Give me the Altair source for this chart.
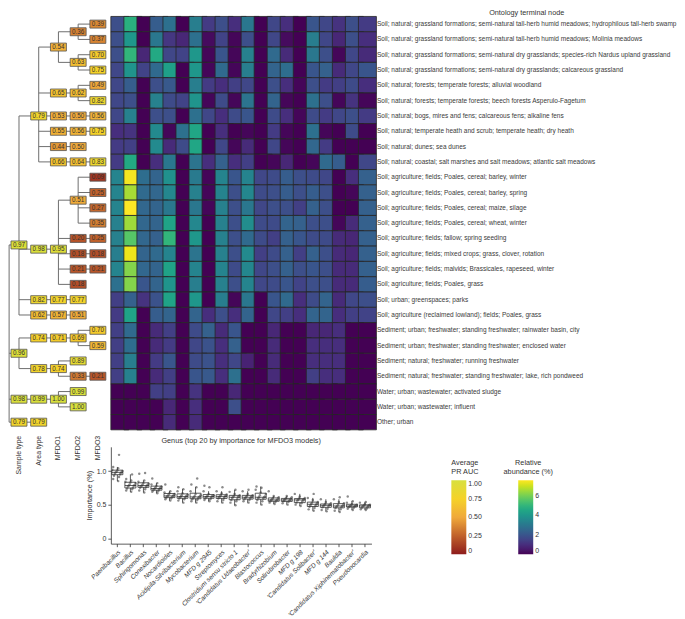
import altair as alt
import pandas as pd

FONT = "Liberation Sans"

ontology = [
    "Soil; natural; grassland formations; semi-natural tall-herb humid meadows; hydrophilous tall-herb swamp",
    "Soil; natural; grassland formations; semi-natural tall-herb humid meadows; Molinia meadows",
    "Soil; natural; grassland formations; semi-natural dry grasslands; species-rich Nardus upland grassland",
    "Soil; natural; grassland formations; semi-natural dry grasslands; calcareous grassland",
    "Soil; natural; forests; temperate forests; alluvial woodland",
    "Soil; natural; forests; temperate forests; beech forests Asperulo-Fagetum",
    "Soil; natural; bogs, mires and fens; calcareous fens; alkaline fens",
    "Soil; natural; temperate heath and scrub; temperate heath; dry heath",
    "Soil; natural; dunes; sea dunes",
    "Soil; natural; coastal; salt marshes and salt meadows; atlantic salt meadows",
    "Soil; agriculture; fields; Poales, cereal; barley, winter",
    "Soil; agriculture; fields; Poales, cereal; barley, spring",
    "Soil; agriculture; fields; Poales, cereal; maize, silage",
    "Soil; agriculture; fields; Poales, cereal; wheat, winter",
    "Soil; agriculture; fields; fallow; spring seeding",
    "Soil; agriculture; fields; mixed crops; grass, clover, rotation",
    "Soil; agriculture; fields; malvids; Brassicales, rapeseed, winter",
    "Soil; agriculture; fields; Poales, grass",
    "Soil; urban; greenspaces; parks",
    "Soil; agriculture (reclaimed lowland); fields; Poales, grass",
    "Sediment; urban; freshwater; standing freshwater; rainwater basin, city",
    "Sediment; urban; freshwater; standing freshwater; enclosed water",
    "Sediment; natural; freshwater; running freshwater",
    "Sediment; natural; freshwater; standing freshwater; lake, rich pondweed",
    "Water; urban; wastewater; activated sludge",
    "Water; urban; wastewater; influent",
    "Other; urban",
]

genera = [
    "Paenibacillus", "Bacillus", "Sphingomonas", "Conexibacter", "Nocardioides",
    "Acidipila-Silvibacterium", "Mycobacterium", "MFD g 2945", "Streptomyces",
    "Clostridium sensu stricto 1", "'Candidatus Udaeobacter'", "Blastococcus",
    "Bradyrhizobium", "Solirubrobacter", "MFD g 198", "'Candidatus Solibacter'",
    "MFD g 144", "Bauldia", "'Candidatus Xiphinematobacter'", "Pseudonocardia",
]

# relative abundance (%) per ontology node (rows) and genus (columns)
abundance = [
    [1.8, 4.8, 0, 2.2, 2.8, 0, 3.2, 1.3, 1.8, 1.0, 3.0, 0, 1.6, 1.0, 0, 2.0, 1.6, 1.1, 1.8, 1.3],
    [1.8, 4.0, 0, 3.0, 1.2, 0.8, 2.8, 0.2, 1.5, 0.1, 1.8, 0, 1.6, 0.2, 0, 3.2, 1.6, 0.8, 1.8, 1.0],
    [1.8, 5.0, 0.8, 4.6, 1.6, 1.5, 4.0, 0.1, 2.0, 0.1, 3.3, 0, 2.6, 0.9, 0, 3.0, 1.8, 0.1, 1.6, 0.9],
    [1.6, 3.9, 1.5, 2.6, 4.3, 0, 4.0, 0.1, 2.6, 0.1, 3.2, 0, 2.4, 2.7, 0, 2.0, 2.3, 0.9, 1.6, 2.0],
    [1.6, 2.2, 0, 1.8, 2.1, 0, 3.2, 1.3, 1.0, 1.4, 1.6, 0, 1.8, 1.0, 0.1, 1.8, 1.3, 1.4, 1.7, 1.0],
    [1.6, 1.8, 0, 3.3, 1.7, 1.5, 3.9, 0.1, 1.7, 0.1, 2.9, 0, 2.4, 0.1, 0, 2.8, 1.8, 0.1, 1.1, 0.1],
    [1.6, 3.3, 0, 1.8, 1.8, 0, 2.8, 1.6, 1.0, 1.7, 2.0, 0, 1.7, 1.0, 0.1, 1.7, 1.3, 1.6, 1.8, 1.3],
    [1.0, 1.1, 0, 3.6, 0.1, 2.8, 4.5, 0, 1.0, 0, 0.1, 0, 1.3, 0.1, 0, 2.8, 0.1, 0, 1.7, 0],
    [1.3, 1.4, 0, 3.6, 0.9, 1.7, 4.5, 0, 1.6, 0.1, 0.9, 0, 1.6, 0.1, 0, 2.5, 1.3, 0, 0, 0],
    [1.3, 4.6, 0, 1.0, 3.0, 0, 2.9, 1.0, 2.3, 1.0, 1.4, 0, 0.1, 0.8, 0, 0.1, 2.6, 2.2, 0, 1.6],
    [3.4, 7.5, 2.7, 2.4, 3.8, 0, 3.1, 0.1, 3.4, 2.0, 3.4, 1.6, 1.7, 2.2, 1.8, 1.7, 1.6, 0, 1.0, 2.3],
    [3.4, 6.6, 2.6, 2.5, 3.5, 0, 3.3, 0.1, 3.4, 1.8, 3.5, 1.7, 1.8, 2.2, 1.8, 2.2, 1.8, 0, 0.1, 2.3],
    [3.4, 7.6, 2.5, 2.4, 3.0, 0, 3.0, 0.1, 3.3, 1.8, 3.0, 1.6, 1.8, 1.8, 1.4, 2.3, 1.8, 0, 0, 2.3],
    [3.3, 6.5, 2.5, 2.4, 4.4, 0, 3.5, 0, 3.3, 1.8, 3.7, 1.7, 1.7, 2.4, 2.3, 1.8, 1.8, 0.1, 0.9, 2.3],
    [3.3, 5.6, 2.5, 2.3, 5.0, 0, 4.0, 0, 3.3, 1.8, 2.6, 1.7, 1.4, 2.3, 2.0, 1.7, 1.7, 0.9, 0.8, 2.3],
    [3.2, 7.4, 2.4, 2.6, 3.4, 0, 2.9, 0, 3.3, 1.8, 3.6, 1.4, 1.7, 2.3, 1.4, 2.3, 1.8, 0.9, 0.8, 2.3],
    [3.4, 6.2, 2.5, 2.4, 4.4, 0, 3.4, 0, 3.4, 1.7, 3.5, 1.6, 1.8, 2.3, 1.8, 2.0, 1.8, 0.9, 0.9, 2.3],
    [2.8, 6.2, 2.0, 2.4, 3.9, 0, 3.2, 0, 3.3, 1.8, 3.4, 1.6, 1.7, 2.0, 1.5, 1.8, 1.8, 0.9, 0.9, 2.2],
    [1.4, 2.3, 1.1, 1.9, 4.4, 0, 4.0, 0, 3.2, 0.1, 3.0, 0, 2.0, 2.6, 1.0, 1.7, 2.4, 0.9, 1.6, 1.8],
    [1.3, 4.4, 0, 2.2, 2.4, 0, 2.4, 1.0, 1.8, 1.0, 2.4, 0, 1.6, 1.4, 1.0, 2.4, 2.4, 1.0, 1.4, 1.5],
    [1.4, 2.6, 0, 0.9, 1.4, 0, 1.7, 2.3, 0.9, 2.0, 0, 0, 0.8, 0, 0, 0.8, 0.8, 1.0, 0, 0],
    [1.4, 2.7, 0, 0.9, 1.3, 0, 1.6, 1.9, 1.0, 2.3, 0, 0, 0.9, 0, 0, 1.0, 1.0, 1.0, 0, 0],
    [1.4, 3.2, 0, 1.3, 2.0, 0, 1.7, 1.9, 1.0, 1.6, 0.7, 0, 0.9, 0, 0, 1.0, 1.0, 1.0, 0, 0],
    [1.4, 3.3, 0, 0.9, 1.4, 0, 2.0, 2.1, 1.0, 2.8, 0, 0, 0.9, 0, 0, 1.4, 1.0, 1.0, 0, 0],
    [0, 0, 0, 1.4, 1.4, 0, 1.1, 0, 0, 0.8, 0, 0, 0, 0, 0, 0, 0, 0, 0, 0],
    [0, 0, 0, 0, 0.8, 0, 1.0, 0, 0, 1.8, 0, 0, 0, 0, 0, 0, 0, 0, 0, 0],
    [0, 0, 0, 0, 0.9, 0, 0.9, 0, 0, 0, 0, 0, 0, 0, 0, 0, 0, 0, 0, 0],
]

level_names = ["Sample type", "Area type", "MFDO1", "MFDO2", "MFDO3"]
level_ids = [1, 2, 3, 4, 5]

# ontology tree: (node id, parent id, level, average PR AUC, leaf row index)
tree_nodes = [
    ("root", None, 0.5, None, None),
    ("soil", "root", 1, 0.97, None),
    ("soil_nat", "soil", 2, 0.79, None),
    ("n_grass", "soil_nat", 3, 0.54, None),
    ("n_tall", "n_grass", 4, 0.36, None),
    ("r1", "n_tall", 5, 0.39, 0),
    ("r2", "n_tall", 5, 0.37, 1),
    ("n_dry", "n_grass", 4, 0.63, None),
    ("r3", "n_dry", 5, 0.70, 2),
    ("r4", "n_dry", 5, 0.75, 3),
    ("n_for", "soil_nat", 3, 0.65, None),
    ("n_tfor", "n_for", 4, 0.62, None),
    ("r5", "n_tfor", 5, 0.49, 4),
    ("r6", "n_tfor", 5, 0.82, 5),
    ("n_bog", "soil_nat", 3, 0.53, None),
    ("n_bog2", "n_bog", 4, 0.50, None),
    ("r7", "n_bog2", 5, 0.56, 6),
    ("n_heath", "soil_nat", 3, 0.55, None),
    ("n_heath2", "n_heath", 4, 0.56, None),
    ("r8", "n_heath2", 5, 0.75, 7),
    ("n_dunes", "soil_nat", 3, 0.44, None),
    ("r9", "n_dunes", 4, 0.50, 8),
    ("n_coast", "soil_nat", 3, 0.66, None),
    ("n_coast2", "n_coast", 4, 0.64, None),
    ("r10", "n_coast2", 5, 0.83, 9),
    ("soil_agr", "soil", 2, 0.98, None),
    ("a_fields", "soil_agr", 3, 0.95, None),
    ("a_cereal", "a_fields", 4, 0.51, None),
    ("r11", "a_cereal", 5, 0.09, 10),
    ("r12", "a_cereal", 5, 0.25, 11),
    ("r13", "a_cereal", 5, 0.27, 12),
    ("r14", "a_cereal", 5, 0.35, 13),
    ("a_fallow", "a_fields", 4, 0.20, None),
    ("r15", "a_fallow", 5, 0.25, 14),
    ("a_mixed", "a_fields", 4, 0.18, None),
    ("r16", "a_mixed", 5, 0.18, 15),
    ("a_malv", "a_fields", 4, 0.21, None),
    ("r17", "a_malv", 5, 0.21, 16),
    ("r18", "a_fields", 4, 0.18, 17),
    ("soil_urb", "soil", 2, 0.82, None),
    ("u_green", "soil_urb", 3, 0.77, None),
    ("r19", "u_green", 4, 0.77, 18),
    ("soil_recl", "soil", 2, 0.62, None),
    ("rc_fields", "soil_recl", 3, 0.57, None),
    ("r20", "rc_fields", 4, 0.51, 19),
    ("sed", "root", 1, 0.96, None),
    ("s_urb", "sed", 2, 0.74, None),
    ("s_urb_fw", "s_urb", 3, 0.71, None),
    ("s_urb_st", "s_urb_fw", 4, 0.69, None),
    ("r21", "s_urb_st", 5, 0.70, 20),
    ("r22", "s_urb_st", 5, 0.59, 21),
    ("s_nat", "sed", 2, 0.78, None),
    ("s_nat_fw", "s_nat", 3, 0.74, None),
    ("r23", "s_nat_fw", 4, 0.89, 22),
    ("s_nat_st", "s_nat_fw", 4, 0.33, None),
    ("r24", "s_nat_st", 5, 0.21, 23),
    ("water", "root", 1, 0.98, None),
    ("w_urb", "water", 2, 0.99, None),
    ("w_ww", "w_urb", 3, 1.00, None),
    ("r25", "w_ww", 4, 0.99, 24),
    ("r26", "w_ww", 4, 1.00, 25),
    ("other", "root", 1, 0.79, None),
    ("r27", "other", 2, 0.79, 26),
]

# feature importance (%) per genus
importance = {
    "Paenibacillus": [0.85, 0.88, 0.91, 0.93, 0.95, 0.96, 0.97, 0.98, 0.98, 0.99, 1.00, 1.01, 1.02, 1.04, 1.06, 1.24],
    "Bacillus": [0.69, 0.71, 0.73, 0.74, 0.75, 0.77, 0.78, 0.78, 0.79, 0.80, 0.82, 0.83, 0.84, 0.86, 0.88, 0.95],
    "Sphingomonas": [0.68, 0.71, 0.73, 0.75, 0.76, 0.77, 0.78, 0.78, 0.79, 0.80, 0.81, 0.82, 0.84, 0.86, 0.96, 0.97],
    "Conexibacter": [0.67, 0.69, 0.70, 0.71, 0.72, 0.73, 0.74, 0.74, 0.75, 0.76, 0.77, 0.78, 0.80, 0.82, 0.89],
    "Nocardioides": [0.56, 0.58, 0.59, 0.60, 0.61, 0.62, 0.63, 0.63, 0.64, 0.65, 0.66, 0.67, 0.68, 0.70, 0.80],
    "Acidipila-Silvibacterium": [0.53, 0.56, 0.58, 0.59, 0.60, 0.61, 0.62, 0.62, 0.63, 0.64, 0.65, 0.67, 0.70, 0.73, 0.76],
    "Mycobacterium": [0.53, 0.55, 0.57, 0.58, 0.59, 0.60, 0.61, 0.61, 0.62, 0.63, 0.64, 0.66, 0.70, 0.76, 0.80, 0.89],
    "MFD g 2945": [0.55, 0.57, 0.58, 0.59, 0.60, 0.61, 0.62, 0.62, 0.63, 0.63, 0.64, 0.66, 0.70, 0.76, 0.78],
    "Streptomyces": [0.53, 0.55, 0.57, 0.59, 0.60, 0.61, 0.62, 0.62, 0.63, 0.64, 0.65, 0.67, 0.70, 0.76],
    "Clostridium sensu stricto 1": [0.49, 0.53, 0.55, 0.57, 0.58, 0.60, 0.61, 0.61, 0.62, 0.63, 0.64, 0.66, 0.69, 0.72],
    "'Candidatus Udaeobacter'": [0.53, 0.55, 0.57, 0.58, 0.59, 0.60, 0.61, 0.61, 0.62, 0.63, 0.64, 0.66, 0.70, 0.72],
    "Blastococcus": [0.50, 0.53, 0.55, 0.57, 0.59, 0.60, 0.61, 0.61, 0.62, 0.64, 0.66, 0.68, 0.72, 0.75, 0.77],
    "Bradyrhizobium": [0.51, 0.53, 0.54, 0.55, 0.56, 0.57, 0.57, 0.58, 0.59, 0.60, 0.61, 0.63, 0.70],
    "Solirubrobacter": [0.50, 0.52, 0.54, 0.55, 0.56, 0.57, 0.57, 0.58, 0.59, 0.60, 0.61, 0.63],
    "MFD g 198": [0.48, 0.50, 0.52, 0.53, 0.55, 0.56, 0.57, 0.57, 0.58, 0.59, 0.60, 0.62, 0.66],
    "'Candidatus Solibacter'": [0.41, 0.43, 0.45, 0.47, 0.48, 0.49, 0.50, 0.51, 0.52, 0.53, 0.54, 0.57, 0.60, 0.66],
    "MFD g 144": [0.40, 0.42, 0.44, 0.46, 0.47, 0.48, 0.49, 0.49, 0.50, 0.51, 0.52, 0.54, 0.58],
    "Bauldia": [0.39, 0.41, 0.43, 0.45, 0.46, 0.47, 0.48, 0.48, 0.49, 0.50, 0.52, 0.54, 0.58, 0.61],
    "'Candidatus Xiphinematobacter'": [0.42, 0.44, 0.45, 0.46, 0.47, 0.47, 0.48, 0.48, 0.49, 0.49, 0.50, 0.51, 0.53, 0.55, 0.62],
    "Pseudonocardia": [0.42, 0.43, 0.44, 0.45, 0.46, 0.47, 0.48, 0.48, 0.49, 0.49, 0.50, 0.51, 0.53, 0.54],
}

auc_stops = [0, 0.25, 0.5, 0.75, 1.0]
auc_colors = ["#8e1c1c", "#c0612b", "#f0a93a", "#f5d228", "#d8e03c"]

# ---------------- tree geometry (levels / row positions) ----------------
parent = {n[0]: n[1] for n in tree_nodes}
level = {n[0]: n[2] for n in tree_nodes}
auc = {n[0]: n[3] for n in tree_nodes}
leaf = {n[0]: n[4] for n in tree_nodes}
children = {n[0]: [] for n in tree_nodes}
for n in tree_nodes:
    if n[1] is not None:
        children[n[1]].append(n[0])

ypos = {}


def place(nid):
    if leaf[nid] is not None:
        ypos[nid] = leaf[nid] + 0.5
    else:
        ys = [place(c) for c in children[nid]]
        ypos[nid] = sum(ys) / len(ys)
    return ypos[nid]


place("root")

edges = []
for nid, par, lv, a, lf in tree_nodes:
    if par is not None:
        edges.append({"lx": level[par], "lx2": lv, "y": ypos[nid], "y2": ypos[nid]})
    if len(children[nid]) > 1:
        cy = [ypos[c] for c in children[nid]]
        edges.append({"lx": lv, "lx2": lv, "y": min(cy), "y2": max(cy)})
edges_df = pd.DataFrame(edges)
boxes_df = pd.DataFrame(
    [{"lx": level[n], "y": ypos[n], "auc": auc[n]} for n in level if auc[n] is not None]
)
levels_df = pd.DataFrame({"lx": level_ids, "name": level_names})

NROW = len(ontology)
HEAT_H = 414
HEAT_W = 261
DEND_W = 103
BOX_H = 97

dx = alt.Scale(domain=[0.443, 5.658], nice=False, zero=False)
dy = alt.Scale(domain=[0, NROW], reverse=True, nice=False, zero=False)

auc_scale = alt.Scale(domain=auc_stops, range=auc_colors, interpolate="rgb")

lines = alt.Chart(edges_df).mark_rule(color="#6e6e6e", strokeWidth=1).encode(
    x=alt.X("lx:Q", scale=dx, axis=None),
    x2="lx2:Q",
    y=alt.Y("y:Q", scale=dy, axis=None),
    y2="y2:Q",
)

rects = alt.Chart(boxes_df).mark_rect(
    xOffset=-8, x2Offset=8, yOffset=-4, y2Offset=4, stroke="#555555", strokeWidth=0.8
).encode(
    x=alt.X("lx:Q", scale=dx, axis=None),
    x2="lx:Q",
    y=alt.Y("y:Q", scale=dy, axis=None),
    y2="y:Q",
    color=alt.Color("auc:Q", scale=auc_scale,
                    legend=alt.Legend(title=["Average", "PR AUC"], orient="none",
                                      legendX=444, legendY=443, values=auc_stops,
                                      gradientLength=74, gradientThickness=15,
                                      labelExpr="datum.value == 0 ? '0' : format(datum.value, '.2f')",
                                      direction="vertical")),
)

texts = alt.Chart(boxes_df).mark_text(fontSize=6.3, color="#333333", font=FONT).encode(
    x=alt.X("lx:Q", scale=dx, axis=None),
    y=alt.Y("y:Q", scale=dy, axis=None),
    text=alt.Text("auc:Q", format=".2f"),
)

level_labels = alt.Chart(levels_df).mark_text(
    angle=270, align="right", baseline="middle", fontSize=7, color="#333333", font=FONT
).encode(
    x=alt.X("lx:Q", scale=dx, axis=None),
    y=alt.value(HEAT_H + 6),
    text="name:N",
)

dendro = alt.layer(lines, rects, texts, level_labels).properties(width=DEND_W, height=HEAT_H)

heat_rows = []
for r, node in enumerate(ontology):
    for c, g in enumerate(genera):
        heat_rows.append({"node": node, "genus": g, "abund": abundance[r][c]})
heat_df = pd.DataFrame(heat_rows)

heat = alt.Chart(heat_df).mark_rect(stroke="#262626", strokeWidth=0.8).encode(
    x=alt.X("genus:N", sort=genera, axis=None,
            scale=alt.Scale(paddingInner=0, paddingOuter=0)),
    y=alt.Y("node:N", sort=ontology, title="Ontology terminal node",
            scale=alt.Scale(paddingInner=0, paddingOuter=0),
            axis=alt.Axis(orient="right", titleAngle=0, titleX=155, titleY=0,
                          titleAlign="center", titleBaseline="bottom", titleFontSize=7.3,
                          titleFontWeight="normal", labelFontSize=6.5, labelLimit=400,
                          labelPadding=5, ticks=False, domain=False, labelColor="#3a3a3a")),
    color=alt.Color("abund:Q", scale=alt.Scale(scheme="viridis", domain=[0, 7.6]),
                    legend=alt.Legend(title=["Relative", "abundance (%)"], orient="none",
                                      legendX=393, legendY=443, values=[0, 2, 4, 6],
                                      gradientLength=74, gradientThickness=15,
                                      titleAlign="center", titleAnchor="middle",
                                      direction="vertical")),
).properties(width=HEAT_W, height=HEAT_H)

imp_rows = []
for g in genera:
    for v in importance[g]:
        imp_rows.append({"genus": g, "imp": v})
imp_df = pd.DataFrame(imp_rows)

bx = alt.X("genus:N", sort=genera, title=None,
           scale=alt.Scale(paddingInner=0, paddingOuter=0),
           axis=alt.Axis(labelAngle=-45, labelFontSize=6.5, labelLimit=300, labelPadding=2,
                         labelOverlap=False, tickSize=3, labelFontStyle="italic",
                         labelColor="#333"))
by = alt.Y("imp:Q", title="Importance (%)",
           scale=alt.Scale(domain=[-0.08, 1.36], nice=False, zero=False),
           axis=alt.Axis(values=[0, 0.5, 1.0], tickSize=3, labelFontSize=7,
                         titleFontSize=7.3, titleFontWeight="normal", titlePadding=3,
                         labelExpr="datum.value == 0 ? '0' : format(datum.value, '.1f')"))

pts = alt.Chart(imp_df).transform_window(
    idx="row_number()", groupby=["genus"]
).transform_calculate(
    jit="((datum.idx * 7) % 13) / 12"
).mark_circle(size=6, color="#777777", opacity=0.85).encode(
    x=bx,
    xOffset=alt.XOffset("jit:Q", scale=alt.Scale(domain=[-0.15, 1.15])),
    y=by,
)

bplot = alt.Chart(imp_df).mark_boxplot(
    size=11, outliers=False, extent=1.5,
    box={"fillOpacity": 0, "stroke": "#333333", "strokeWidth": 0.8},
    median={"color": "#222222", "strokeWidth": 1.2},
    rule={"color": "#333333", "strokeWidth": 0.8},
).encode(x=bx, y=by)

boxchart = alt.layer(pts, bplot).properties(
    width=HEAT_W, height=BOX_H,
    title=alt.TitleParams("Genus (top 20 by importance for MFDO3 models)", fontSize=7.3,
                          fontWeight="normal", color="#333", anchor="middle", offset=3),
)

right = alt.vconcat(heat, boxchart, spacing=17, bounds="flush")

chart = alt.hconcat(dendro, right, spacing=0, bounds="flush").resolve_scale(
    color="independent"
).properties(padding=0).configure_view(strokeWidth=0).configure_axis(
    grid=False, labelFont=FONT, titleFont=FONT, labelColor="#333", titleColor="#333",
    domainColor="#333", tickColor="#333", domainWidth=0.8, tickWidth=0.8,
).configure_legend(
    labelFont=FONT, titleFont=FONT, labelFontSize=7, titleFontSize=7.3,
    titleFontWeight="normal", labelColor="#333", titleColor="#333", titleLimit=200,
).configure_title(font=FONT)

chart.save("out.html", embed_options={"renderer": "svg", "actions": False})
